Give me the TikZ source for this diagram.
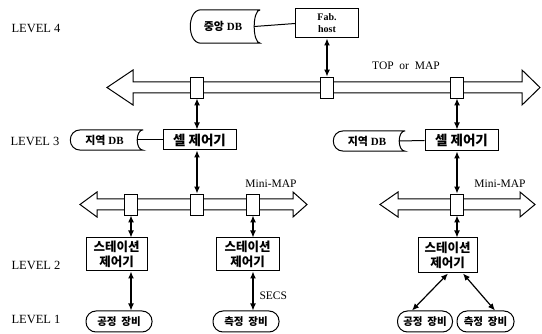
\documentclass[tikz,border=0pt]{standalone}
\usepackage{fontspec}
\setmainfont{Liberation Serif}
\newfontfamily\kr{Noto Sans CJK KR}
\usetikzlibrary{arrows.meta,calc}
\tikzset{
  lvl/.style={anchor=west,font=\fontsize{12.5}{13}\selectfont},
  boxn/.style={draw,line width=1pt,inner sep=0pt,font=\kr\bfseries\fontsize{12.5}{15}\selectfont,align=center},
  celln/.style={boxn,font=\kr\bfseries\fontsize{13.5}{15}\selectfont},
  eqn/.style={draw,line width=1pt,rounded corners=10pt,inner sep=0pt,font=\kr\bfseries\fontsize{10.5}{12}\selectfont},
  dbn/.style={inner sep=0pt,font=\bfseries\fontsize{11}{12}\selectfont},
  conn/.style={draw,fill=white,line width=0.9pt,minimum width=13pt,minimum height=21pt,inner sep=0pt},
  bus/.style={draw,line width=1pt,line join=miter},
  dbl/.style={{Latex[length=7pt,width=6pt]}-{Latex[length=7pt,width=6pt]},line width=1.2pt},
  lab/.style={font=\fontsize{11.5}{12}\selectfont},
  plain/.style={line width=1pt}
}
\newcommand{\dbshape}[1]{%
  \draw[plain] (#1.north east) -- ([xshift=11pt]#1.north west)
    .. controls ([xshift=-3pt]#1.north west) and ([xshift=-3pt]#1.south west) .. ([xshift=11pt]#1.south west)
    -- (#1.south east)
    .. controls ([xshift=-8pt]#1.south east) and ([xshift=-8pt]#1.north east) .. (#1.north east);}
\begin{document}
\begin{tikzpicture}[x=1pt,y=-1pt]
\useasboundingbox (0,0) rectangle (542,334);
% level labels
\node[lvl] (l4) at (8,28) {LEVEL 4};
\node[lvl] (l3) at (7,141) {LEVEL 3};
\node[lvl] (l2) at (8,265) {LEVEL 2};
\node[lvl] (l1) at (8,319) {LEVEL 1};
% buses
\draw[bus] (107,87.5) -- (133,70) -- (133,82) -- (522,82) -- (522,70) -- (540,87.5) -- (522,105) -- (522,93) -- (133,93) -- (133,105) -- cycle;
\draw[bus] (80,204.5) -- (97,192) -- (97,199) -- (293,199) -- (293,192) -- (307,204.5) -- (293,217) -- (293,210) -- (97,210) -- (97,217) -- cycle;
\draw[bus] (380,204.5) -- (398,192) -- (398,199) -- (520,199) -- (520,192) -- (535,204.5) -- (520,217) -- (520,210) -- (398,210) -- (398,217) -- cycle;
% connectors
\node[conn] (t1) at (197,87.5) {};
\node[conn] (t2) at (327,87.5) {};
\node[conn] (t3) at (457,87.5) {};
\node[conn] (m1) at (131,204.5) {};
\node[conn] (m2) at (197,204.5) {};
\node[conn] (m3) at (253,204.5) {};
\node[conn] (m4) at (457,204.5) {};
% labels
\node[lab] (top) at (406,66) {TOP\ \ or\ \ MAP};
\node[lab] (mm1) at (271,184) {Mini-MAP};
\node[lab] (mm2) at (500,184) {Mini-MAP};
\node[lab,anchor=west] (secs) at (256,296) {SECS};
% level 4
\node[dbn,minimum width=70pt,minimum height=33pt] (cdb) at (225,26.5) {\hspace*{-4pt}{\kr 중앙} DB};
\dbshape{cdb}
\node[boxn,minimum width=63pt,minimum height=29pt,font=\bfseries\fontsize{10}{12}\selectfont] (fab) at (327,23.5) {Fab.\\host};
\draw[plain] ([xshift=-6pt]cdb.east) -- (fab.west);
% level 3
\node[dbn,minimum width=73pt,minimum height=20pt] (ldb) at (106.5,140) {\hspace*{-4pt}{\kr 지역} DB};
\dbshape{ldb}
\node[celln,minimum width=73pt,minimum height=20pt] (lcell) at (199.5,140) {셀 제어기};
\draw[plain] ([xshift=-6pt]ldb.east) -- (lcell.west);
\node[dbn,minimum width=72pt,minimum height=20pt] (rdb) at (369,141) {\hspace*{-4pt}{\kr 지역} DB};
\dbshape{rdb}
\node[celln,minimum width=73pt,minimum height=21pt] (rcell) at (461.5,140.5) {셀 제어기};
\draw[plain] ([xshift=-6pt]rdb.east) -- (rcell.west);
% level 2
\node[boxn,minimum width=61pt,minimum height=33pt] (s1) at (116.5,254.5) {스테이션\\제어기};
\node[boxn,minimum width=63pt,minimum height=33pt] (s2) at (247.5,254.5) {스테이션\\제어기};
\node[boxn,minimum width=59pt,minimum height=35pt] (s3) at (447.5,255.5) {스테이션\\제어기};
% level 1
\node[eqn,minimum width=66pt,minimum height=21pt] (e1) at (119,321.5) {공정\ \ 장비};
\node[eqn,minimum width=66pt,minimum height=21pt] (e2) at (246,321.5) {측정\ \ 장비};
\node[eqn,minimum width=55pt,minimum height=21pt] (e3) at (425,321.5) {공정\ \ 장비};
\node[eqn,minimum width=57pt,minimum height=21pt] (e4) at (485.5,321.5) {측정\ \ 장비};
% arrows
\draw[dbl] (fab.south) -- (t2.north);
\draw[dbl] (t1.south) -- (lcell.north -| t1);
\draw[dbl] (lcell.south -| m2) -- (m2.north);
\draw[dbl] (t3.south) -- (rcell.north -| t3);
\draw[dbl] (rcell.south -| m4) -- (m4.north);
\draw[dbl] (m1.south) -- (s1.north -| m1);
\draw[dbl] (m3.south) -- (s2.north -| m3);
\draw[dbl] (m4.south) -- (s3.north -| m4);
\draw[dbl] (s1.south -| m1) -- (e1.north -| m1);
\draw[dbl] (s2.south -| m3) -- (e2.north -| m3);
\draw[dbl] ($(s3.south)+(0.5,0)$) -- ($(e3.north)+(-13,0)$);
\draw[dbl] ($(s3.south)+(15.5,0)$) -- ($(e4.north)+(9.5,0)$);
\end{tikzpicture}
\end{document}
